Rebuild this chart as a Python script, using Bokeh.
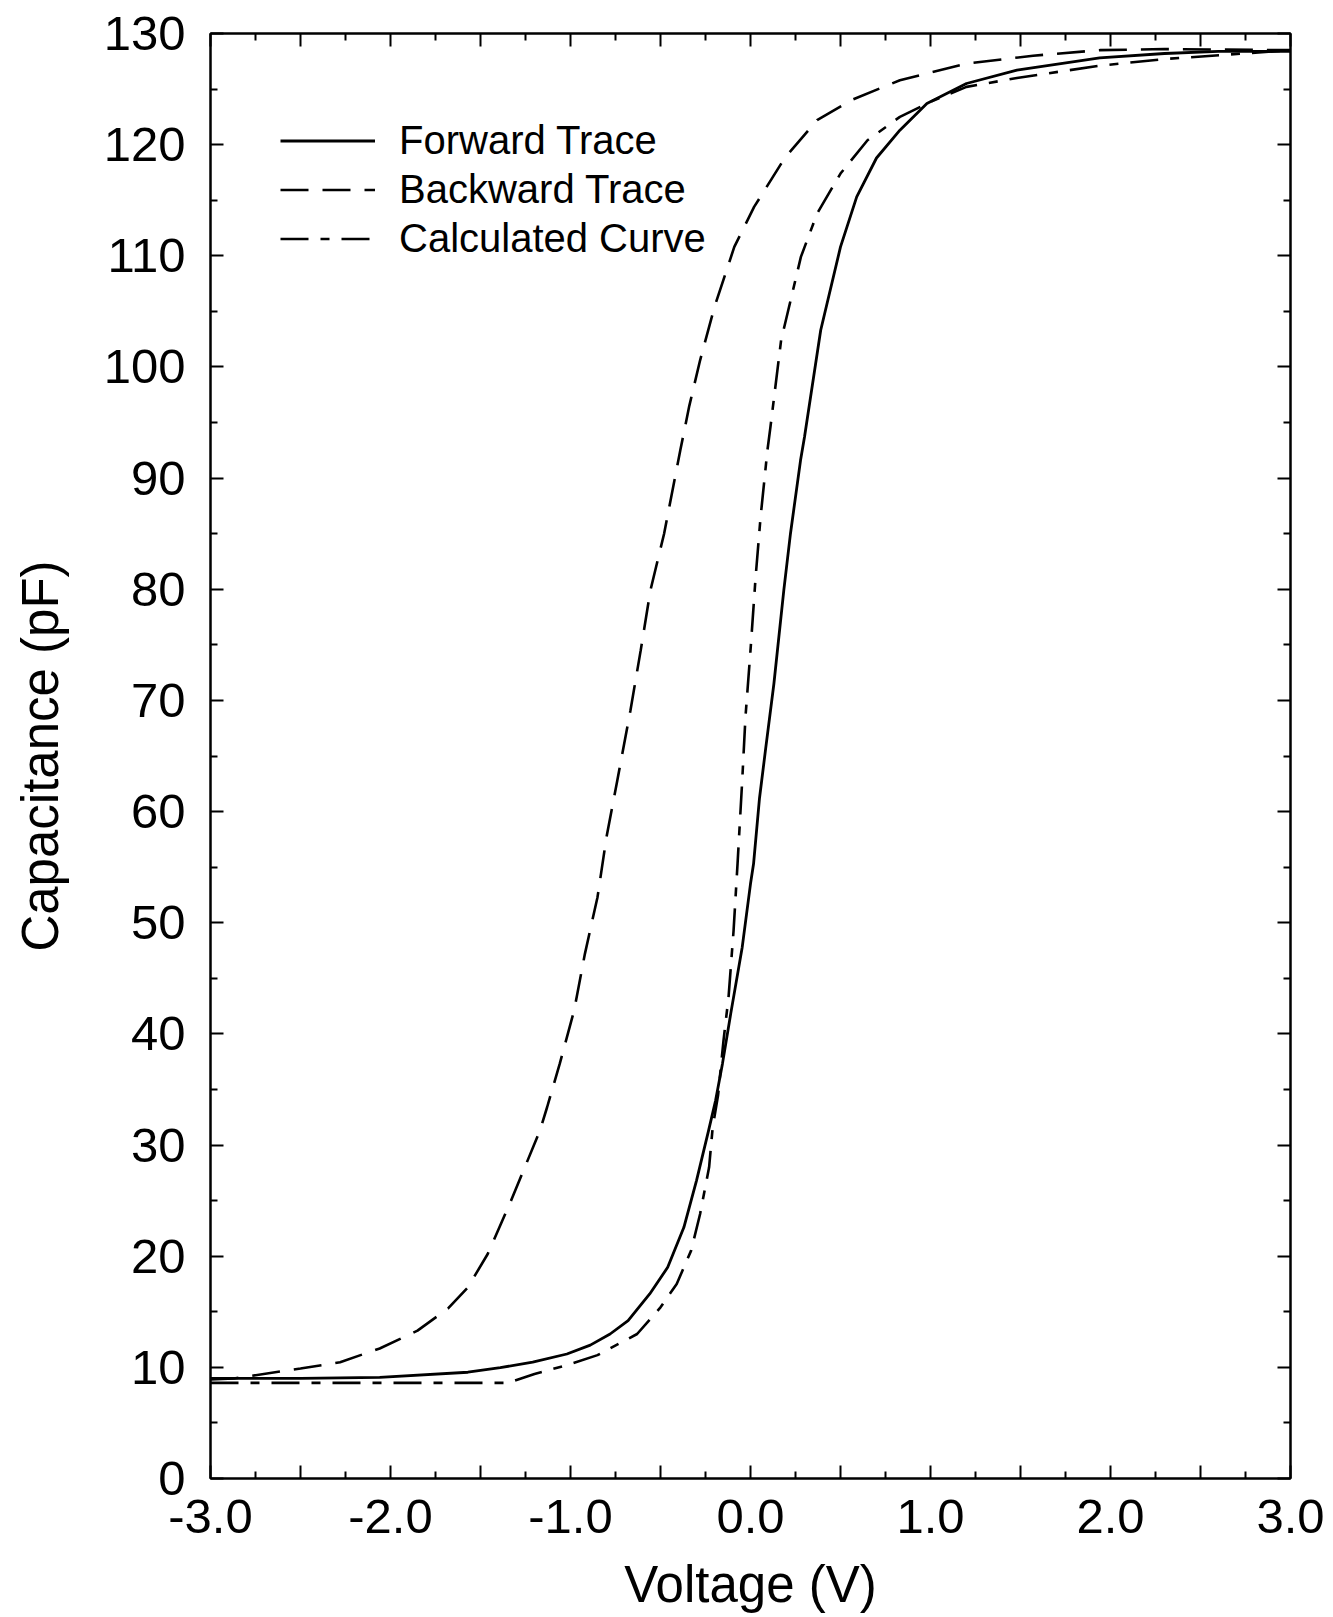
from bokeh.plotting import figure
from bokeh.models import (FixedTicker, LinearAxis, CustomJSTickFormatter, Legend,
                          LegendItem, Range1d)
from bokeh.embed import file_html
from bokeh.resources import INLINE

# ---- data ----
v_forward = [-3.0, -2.5, -2.06, -1.57, -1.39, -1.21, -1.02, -0.89, -0.78, -0.68,
             -0.56, -0.46, -0.37, -0.30, -0.233, -0.194, -0.156, -0.11, -0.046,
             0.0, 0.017, 0.05, 0.083, 0.13, 0.185, 0.222, 0.278, 0.30, 0.39, 0.5,
             0.59, 0.7, 0.83, 0.98, 1.2, 1.48, 1.94, 2.3, 2.6, 3.0]
c_forward = [9.0, 9.0, 9.1, 9.56, 9.98, 10.46, 11.2, 12.0, 13.0, 14.2,
             16.6, 19.0, 22.6, 26.8, 31.3, 34.0, 37.3, 41.8, 47.8,
             53.5, 55.3, 61.2, 65.5, 71.5, 79.9, 85.0, 91.6, 93.7, 103.3, 110.8,
             115.3, 118.8, 121.3, 123.7, 125.5, 126.7, 127.8, 128.2, 128.4, 128.4]

v_backward = [-3.0, -2.87, -2.5, -2.28, -2.06, -1.85, -1.68, -1.57, -1.46, -1.33,
              -1.17, -1.13, -1.06, -0.98, -0.92, -0.85, -0.80, -0.74, -0.667,
              -0.61, -0.556, -0.48, -0.39, -0.34, -0.28, -0.2, -0.09, 0.02, 0.19,
              0.37, 0.56, 0.83, 1.2, 1.57, 1.94, 2.3, 3.0]
c_backward = [8.9, 9.0, 9.9, 10.46, 11.7, 13.3, 15.3, 17.2, 20.2, 25.0,
              31.3, 33.4, 37.3, 42.1, 47.2, 52.3, 57.7, 62.8, 69.1,
              74.5, 79.9, 85.0, 92.5, 96.5, 100.6, 105.4, 110.8, 114.4, 118.8,
              122.2, 124.0, 125.8, 127.3, 128.0, 128.5, 128.6, 128.5]

v_calc = [-3.0, -2.0, -1.35, -1.2, -1.02, -0.85, -0.63, -0.5, -0.41, -0.33,
          -0.28, -0.23, -0.21, -0.18, -0.15, -0.122, -0.094, -0.072, -0.046,
          -0.028, 0.0, 0.028, 0.056, 0.094, 0.11, 0.17, 0.28, 0.37, 0.5, 0.65,
          0.83, 1.02, 1.2, 1.48, 1.94, 2.3, 3.0]
c_calc = [8.6, 8.6, 8.6, 9.4, 10.2, 11.1, 13.0, 15.4, 17.5, 20.5,
          23.8, 28.0, 31.6, 34.5, 39.4, 43.3, 49.3, 55.3, 62.8,
          68.5, 74.5, 81.0, 86.5, 92.5, 94.5, 102.4, 109.9, 113.8, 117.4, 120.4,
          122.5, 124.0, 125.2, 126.0, 127.1, 127.7, 128.5]

series_names = ["Forward Trace", "Backward Trace", "Calculated Curve"]

x_major = [-3.0 + 0.5 * i for i in range(13)]
x_minor = [-2.75 + 0.5 * i for i in range(12)]
y_major = [10 * i for i in range(14)]
y_minor = [5 + 10 * i for i in range(13)]

FONT = "Liberation Sans"

p = figure(width=1325, height=1617, x_range=Range1d(-3, 3), y_range=Range1d(0, 130),
           output_backend="svg", toolbar_location=None,
           min_border_left=210, min_border_right=35, min_border_top=33,
           min_border_bottom=139)
p.grid.visible = False
p.outline_line_color = "black"
p.outline_line_width = 2
p.background_fill_color = "white"
p.border_fill_color = "white"

xt = FixedTicker(ticks=x_major, minor_ticks=x_minor)
yt = FixedTicker(ticks=y_major, minor_ticks=y_minor)

def style_axis(ax, ticker):
    ax.ticker = ticker
    ax.axis_line_color = "black"
    ax.axis_line_width = 2
    ax.major_tick_in = 13
    ax.major_tick_out = 0
    ax.minor_tick_in = 7
    ax.minor_tick_out = 0
    ax.major_tick_line_width = 2
    ax.minor_tick_line_width = 2
    ax.major_label_text_font = FONT
    ax.major_label_text_color = "black"
    ax.axis_label_text_font = FONT
    ax.axis_label_text_font_style = "normal"
    ax.axis_label_text_color = "black"

xa = p.xaxis[0]
style_axis(xa, xt)
xa.formatter = CustomJSTickFormatter(
    code="return Math.abs(tick - Math.round(tick)) < 1e-6 ? (Math.abs(tick) < 1e-9 ? '0.0' : tick.toFixed(1)) : '';")
xa.major_label_text_font_size = "49px"
xa.major_label_standoff = 21
xa.axis_label = "Voltage (V)"
xa.axis_label_text_font_size = "51px"
xa.axis_label_standoff = 20

ya = p.yaxis[0]
style_axis(ya, yt)
ya.major_label_text_font_size = "49px"
ya.major_label_standoff = 25
ya.axis_label = "Capacitance (pF)"
ya.axis_label_text_font_size = "51px"
ya.axis_label_standoff = 32

top = LinearAxis()
style_axis(top, xt)
top.formatter = CustomJSTickFormatter(code="return '';")
top.major_label_text_font_size = "0px"
top.major_label_standoff = 0
p.add_layout(top, "above")

right = LinearAxis()
style_axis(right, yt)
right.formatter = CustomJSTickFormatter(code="return '';")
right.major_label_text_font_size = "0px"
right.major_label_standoff = 0
p.add_layout(right, "right")

r_f = p.line(v_forward, c_forward, line_color="black", line_width=2.8)
r_b = p.line(v_backward, c_backward, line_color="black", line_width=2.6,
             line_dash="28 14")
r_c = p.line(v_calc, c_calc, line_color="black", line_width=2.6,
             line_dash="28 12 9 12")

legend = Legend(items=[LegendItem(label=series_names[0], renderers=[r_f]),
                       LegendItem(label=series_names[1], renderers=[r_b]),
                       LegendItem(label=series_names[2], renderers=[r_c])],
                location=(70, 1217), orientation="vertical",
                border_line_color=None, background_fill_alpha=0,
                padding=0, margin=0, spacing=4,
                glyph_width=95, glyph_height=45, label_standoff=24,
                label_text_font=FONT, label_text_font_size="40px",
                label_text_color="black")
p.add_layout(legend, "center")

open("out.html", "w").write(file_html(p, INLINE))
